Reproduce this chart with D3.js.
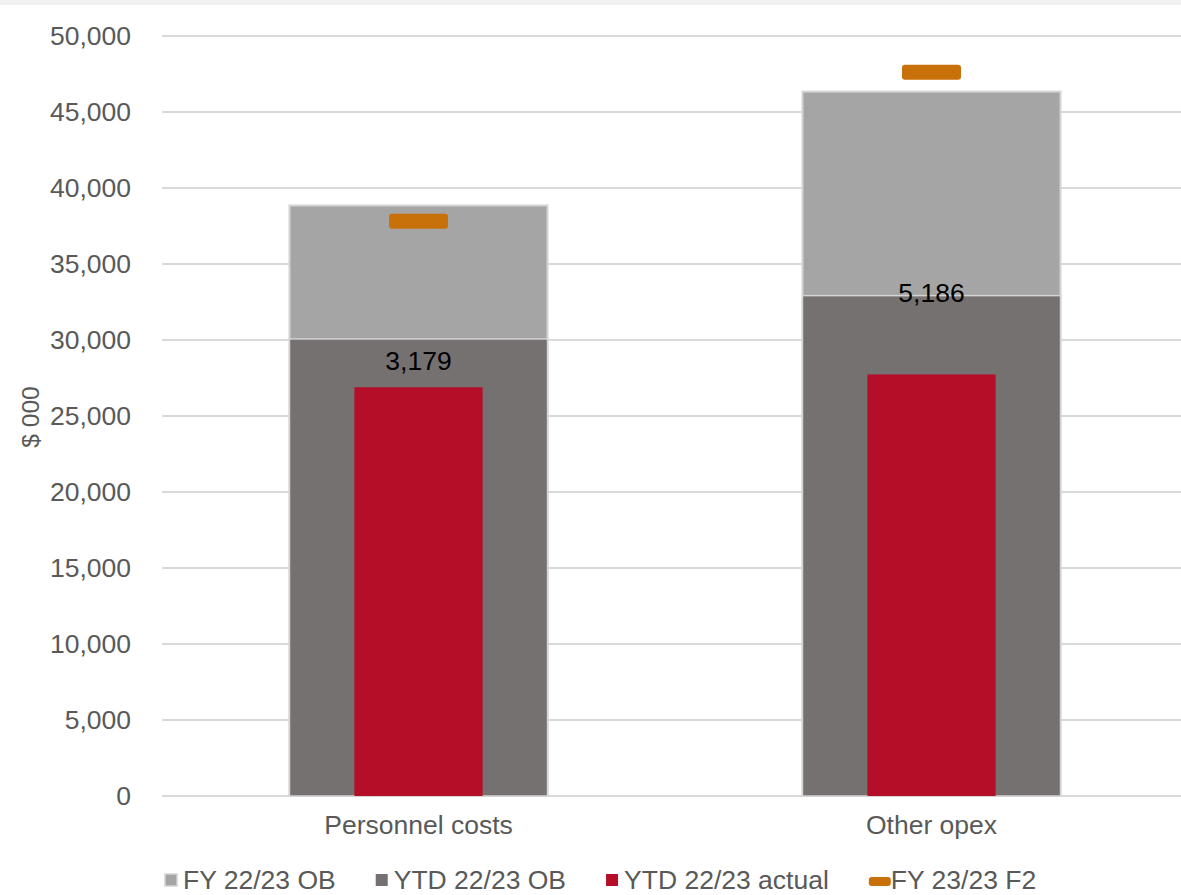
<!DOCTYPE html>
<html>
<head>
<meta charset="utf-8">
<script src="https://cdn.jsdelivr.net/npm/d3@7"></script>
<style>
  html, body { margin: 0; padding: 0; background: #ffffff; }
  svg { display: block; font-family: "Liberation Sans", Arial, sans-serif; }
</style>
</head>
<body>
<svg id="chart" width="1181" height="895"></svg>
<script>
// Opex budget vs actual, $ 000
const categories = ["Personnel costs", "Other opex"];
const fyOB = [38850, 46340];        // FY 22/23 OB
const ytdOB = [30070, 32920];       // YTD 22/23 OB
const ytdActual = [26891, 27734];   // YTD 22/23 actual
const fyF2 = [37810, 47620];        // FY 23/23 F2
const varianceLabelAt = [28620, 33090]; // value level where the variance label sits
const yTicks = [0, 5000, 10000, 15000, 20000, 25000, 30000, 35000, 40000, 45000, 50000];
const seriesNames = ["FY 22/23 OB", "YTD 22/23 OB", "YTD 22/23 actual", "FY 23/23 F2"];

const colors = {
  fy: "#a5a5a5",
  ytd: "#767171",
  actual: "#b40e28",
  f2: "#c8700a",
  edge: "#d4d4d4",
  grid: "#d9d9d9",
  text: "#595959"
};

const W = 1181, H = 895;
const FONT = 26.5;
const svg = d3.select("#chart");

// thin top strip
svg.append("rect").attr("x", 0).attr("y", 0).attr("width", W).attr("height", 5).attr("fill", "#f0f0f0");

const x = d3.scaleBand().domain(categories).range([162, 1188]).paddingInner(0).paddingOuter(0);
const y = d3.scaleLinear().domain([0, 50000]).range([796, 36]);

// gridlines
svg.append("g").selectAll("line").data(yTicks).join("line")
  .attr("x1", 162).attr("x2", W)
  .attr("y1", d => y(d)).attr("y2", d => y(d))
  .attr("stroke", colors.grid).attr("stroke-width", 2);

// y axis labels
const yAxis = d3.axisLeft(y).tickValues(yTicks).tickFormat(d3.format(",")).tickSize(0).tickPadding(0);
const yg = svg.append("g").attr("transform", "translate(131,0)").call(yAxis);
yg.select(".domain").remove();
yg.selectAll("text").attr("font-size", FONT).attr("fill", colors.text).attr("font-family", "Liberation Sans, Arial, sans-serif");

// y axis title
svg.append("text")
  .attr("transform", "translate(39,417) rotate(-90)")
  .attr("text-anchor", "middle")
  .attr("font-size", 24.5).attr("fill", colors.text)
  .text("$ 000");

// x axis labels
const xAxis = d3.axisBottom(x).tickSize(0).tickPadding(0);
const xg = svg.append("g").attr("transform", "translate(0,815)").call(xAxis);
xg.select(".domain").remove();
xg.selectAll("text").attr("font-size", FONT).attr("fill", colors.text).attr("font-family", "Liberation Sans, Arial, sans-serif");

const outerW = x.bandwidth() * 0.503;
const innerW = x.bandwidth() * 0.25;
const cx = d => x(d) + x.bandwidth() / 2;

// FY OB (back bar)
svg.append("g").selectAll("rect").data(categories).join("rect")
  .attr("x", d => cx(d) - outerW / 2)
  .attr("width", outerW)
  .attr("y", (d, i) => y(fyOB[i]))
  .attr("height", (d, i) => y(0) - y(fyOB[i]))
  .attr("fill", colors.fy).attr("stroke", colors.edge).attr("stroke-width", 2);

// YTD OB
svg.append("g").selectAll("rect").data(categories).join("rect")
  .attr("x", d => cx(d) - outerW / 2)
  .attr("width", outerW)
  .attr("y", (d, i) => y(ytdOB[i]))
  .attr("height", (d, i) => y(0) - y(ytdOB[i]))
  .attr("fill", colors.ytd).attr("stroke", colors.edge).attr("stroke-width", 1.5);

// YTD actual
svg.append("g").selectAll("rect").data(categories).join("rect")
  .attr("x", d => cx(d) - innerW / 2)
  .attr("width", innerW)
  .attr("y", (d, i) => y(ytdActual[i]))
  .attr("height", (d, i) => y(0) - y(ytdActual[i]))
  .attr("fill", colors.actual);

// FY F2 markers
const mW = 59, mH = 15;
svg.append("g").selectAll("rect").data(categories).join("rect")
  .attr("x", d => cx(d) - mW / 2)
  .attr("width", mW)
  .attr("y", (d, i) => y(fyF2[i]) - mH / 2)
  .attr("height", mH)
  .attr("rx", 3)
  .attr("fill", colors.f2);

// variance labels (YTD OB - YTD actual)
svg.append("g").selectAll("text").data(categories).join("text")
  .attr("x", d => cx(d))
  .attr("y", (d, i) => y(varianceLabelAt[i]))
  .attr("dy", "0.35em")
  .attr("text-anchor", "middle")
  .attr("font-size", FONT).attr("fill", "#000000")
  .text((d, i) => d3.format(",")(ytdOB[i] - ytdActual[i]));

// legend
const legend = svg.append("g");
let lx = 165;
seriesNames.forEach((name, i) => {
  const g = legend.append("g");
  if (i < 3) {
    const fill = [colors.fy, colors.ytd, colors.actual][i];
    g.append("rect").attr("x", lx).attr("y", 874).attr("width", 12).attr("height", 12)
      .attr("fill", fill)
      .attr("stroke", i === 0 ? colors.edge : "none").attr("stroke-width", 1.5);
    lx += 18;
  } else {
    g.append("rect").attr("x", lx).attr("y", 877).attr("width", 22).attr("height", 9)
      .attr("rx", 3).attr("fill", colors.f2);
    lx += 22;
  }
  const t = g.append("text").attr("x", lx).attr("y", 889)
    .attr("font-size", FONT).attr("fill", colors.text).text(name);
  lx += t.node().getComputedTextLength() + 40;
});
</script>
</body>
</html>
